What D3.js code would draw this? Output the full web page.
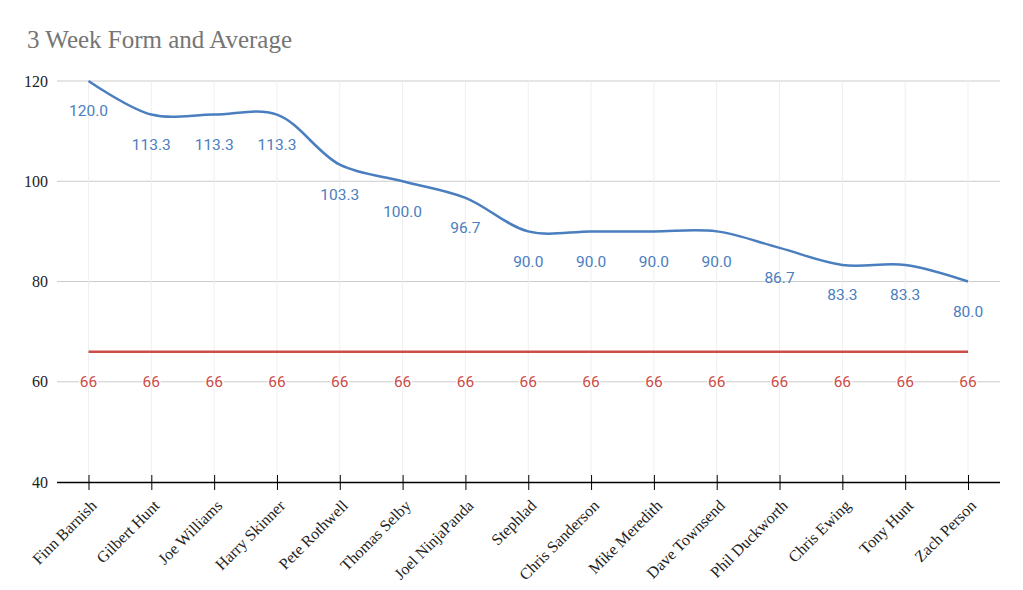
<!DOCTYPE html>
<html>
<head>
<meta charset="utf-8">
<script src="https://cdn.jsdelivr.net/npm/d3@7"></script>
<style>
  body { margin: 0; background: #fff; }
</style>
</head>
<body>
<div id="chart"></div>
<script>
// chart data
const players = [
  "Finn Barnish", "Gilbert Hunt", "Joe Williams", "Harry Skinner", "Pete Rothwell",
  "Thomas Selby", "Joel NinjaPanda", "Stephlad", "Chris Sanderson", "Mike Meredith",
  "Dave Townsend", "Phil Duckworth", "Chris Ewing", "Tony Hunt", "Zach Person"
];
const formValues = [120.0, 113.3, 113.3, 113.3, 103.3, 100.0, 96.7, 90.0, 90.0, 90.0, 90.0, 86.7, 83.3, 83.3, 80.0];
const averageValues = [66, 66, 66, 66, 66, 66, 66, 66, 66, 66, 66, 66, 66, 66, 66];
const yTicks = [40, 60, 80, 100, 120];

const width = 1023, height = 590;
const margin = { top: 81, right: 23, bottom: 108, left: 57 };

const svg = d3.select("#chart").append("svg")
  .attr("width", width)
  .attr("height", height);

// title
svg.append("text")
  .attr("x", 27)
  .attr("y", 48)
  .style("font-family", "'Liberation Serif', 'Times New Roman', serif")
  .style("font-size", "25px")
  .attr("fill", "#757575")
  .text("3 Week Form and Average");

const plotW = width - margin.left - margin.right;
const plotH = height - margin.top - margin.bottom;

const x = d3.scalePoint()
  .domain(players)
  .range([31.5, 911]);

const y = d3.scaleLinear()
  .domain([40, 120])
  .range([plotH, 0]);

const g = svg.append("g").attr("transform", `translate(${margin.left},${margin.top})`);

// horizontal grid
g.selectAll(".hgrid")
  .data(yTicks.filter(d => d !== 40))
  .enter().append("line")
  .attr("x1", 0).attr("x2", plotW)
  .attr("y1", d => y(d)).attr("y2", d => y(d))
  .attr("stroke", "#cccccc")
  .attr("stroke-width", 1);

// vertical faint grid
g.selectAll(".vgrid")
  .data(players)
  .enter().append("line")
  .attr("x1", d => x(d)).attr("x2", d => x(d))
  .attr("y1", 0).attr("y2", plotH)
  .attr("stroke", "#efefef")
  .attr("stroke-width", 1);

// y tick labels
g.selectAll(".ylab")
  .data(yTicks)
  .enter().append("text")
  .attr("x", -9)
  .attr("y", d => y(d))
  .attr("dy", "0.35em")
  .attr("text-anchor", "end")
  .style("font-family", "'Liberation Serif', 'Times New Roman', serif")
  .style("font-size", "16px")
  .attr("fill", "#222")
  .text(d => d);

// x axis
const xAxis = g.append("g")
  .attr("transform", `translate(0,${plotH})`)
  .call(d3.axisBottom(x).tickSize(8).tickSizeOuter(0));
xAxis.select(".domain").attr("stroke", "#000").attr("stroke-width", 1.5).attr("d", `M0,0.5H${plotW}`);
xAxis.selectAll(".tick line").attr("stroke", "#000").attr("y1", -7).attr("y2", 8);
xAxis.selectAll(".tick text")
  .style("font-family", "'Liberation Serif', 'Times New Roman', serif")
  .style("font-size", "16px")
  .attr("fill", "#222")
  .attr("transform", "translate(-7,9) rotate(-45)")
  .attr("dy", "0.7em")
  .attr("text-anchor", "end");

// average line
const line = d3.line()
  .x((d, i) => x(players[i]))
  .y(d => y(d));

g.append("path")
  .datum(averageValues)
  .attr("fill", "none")
  .attr("stroke", "#cc4c46")
  .attr("stroke-width", 2.5)
  .attr("d", line);

// form line
const curve = d3.line()
  .x((d, i) => x(players[i]))
  .y(d => y(d))
  .curve(d3.curveCatmullRom.alpha(0.5));

g.append("path")
  .datum(formValues)
  .attr("fill", "none")
  .attr("stroke", "#4a7ebf")
  .attr("stroke-width", 2.5)
  .attr("d", curve);

// labels
g.selectAll(".flab")
  .data(formValues)
  .enter().append("text")
  .attr("x", (d, i) => x(players[i]))
  .attr("y", d => y(d) + 30)
  .attr("dy", "0.35em")
  .attr("text-anchor", "middle")
  .style("font-family", "Roboto, sans-serif")
  .style("font-size", "15.5px")
  .attr("fill", "#4a7ebf")
  .text(d => d.toFixed(1));

g.selectAll(".alab")
  .data(averageValues)
  .enter().append("text")
  .attr("x", (d, i) => x(players[i]))
  .attr("y", d => y(d) + 30)
  .attr("dy", "0.35em")
  .attr("text-anchor", "middle")
  .style("font-family", "Roboto, sans-serif")
  .style("font-size", "15.5px")
  .attr("fill", "#cc4c46")
  .attr("stroke", "#fff")
  .attr("stroke-width", 3)
  .attr("paint-order", "stroke")
  .text(d => d);
</script>
</body>
</html>
